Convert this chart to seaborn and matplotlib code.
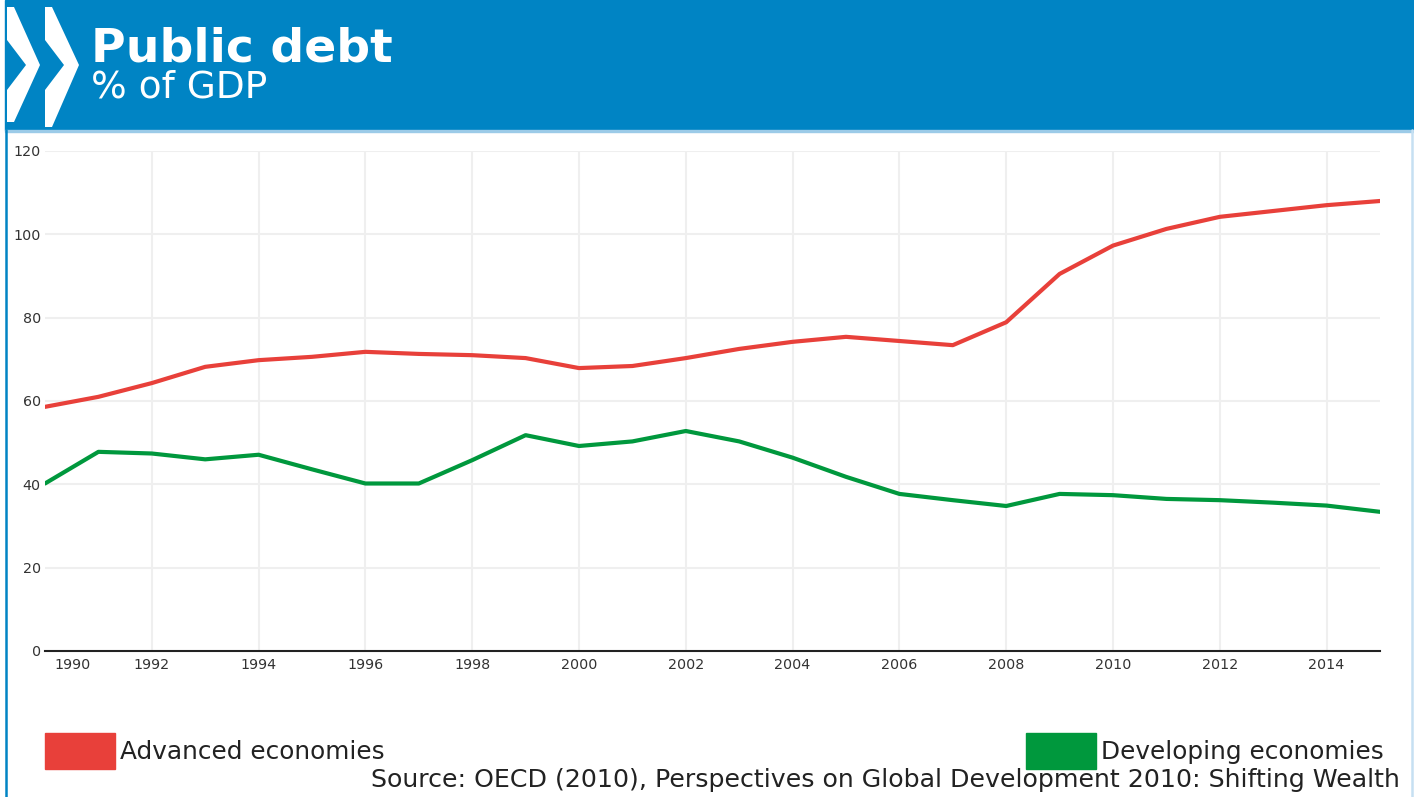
import pandas as pd
import matplotlib.pyplot as plt
import matplotlib.transforms as mtransforms
from matplotlib.patches import Patch, Polygon, Rectangle
import seaborn as sns

# Values (% of GDP)
years = list(range(1990, 2016))
advanced = [58.6, 61.0, 64.3, 68.2, 69.8, 70.6, 71.8, 71.3, 71.0, 70.3,
            67.9, 68.4, 70.3, 72.5, 74.2, 75.4, 74.4, 73.4, 78.9, 90.5,
            97.3, 101.3, 104.2, 105.6, 107.0, 108.0]
developing = [40.2, 47.8, 47.4, 46.0, 47.1, 43.6, 40.2, 40.2, 45.8, 51.8,
              49.2, 50.3, 52.8, 50.3, 46.4, 41.8, 37.7, 36.2, 34.8, 37.7,
              37.4, 36.5, 36.2, 35.6, 34.9, 33.4]
series_names = ['Advanced economies', 'Developing economies']
x_ticks = list(range(1990, 2015, 2))
y_ticks = [0, 20, 40, 60, 80, 100, 120]

title = 'Public debt'
subtitle = '% of GDP'
source = 'Source: OECD (2010), Perspectives on Global Development 2010: Shifting Wealth'

RED = '#e8403a'
GREEN = '#00983d'
BLUE = '#0084c4'

df = pd.DataFrame({
    'year': years * 2,
    'debt': advanced + developing,
    'series': [series_names[0]] * len(years) + [series_names[1]] * len(years),
})

sns.set_style('white')
plt.rcParams['font.family'] = ['DejaVu Sans']

fig = plt.figure(figsize=(14.14, 7.97), dpi=100)
ax = fig.add_axes([45 / 1414, 1 - 651 / 797, (1380 - 45) / 1414, 500 / 797])

sns.lineplot(data=df, x='year', y='debt', hue='series',
             palette={series_names[0]: RED, series_names[1]: GREEN},
             linewidth=3, legend=False, ax=ax)

ax.set_xlim(1990, 2015)
ax.set_ylim(0, 120)
ax.set_xlabel('')
ax.set_ylabel('')

# light grid, no line at the axis start
for yv in y_ticks[1:]:
    ax.axhline(yv, color='#efefef', lw=1.5, zorder=0)
for xv in x_ticks[1:]:
    ax.axvline(xv, color='#efefef', lw=1.5, zorder=0)

for s in ['top', 'right', 'left']:
    ax.spines[s].set_visible(False)
ax.spines['bottom'].set_color('#222222')
ax.spines['bottom'].set_linewidth(1.5)

ax.set_yticks(y_ticks)
ax.set_xticks(x_ticks)
ax.tick_params(axis='y', direction='in', length=8.5, width=1.2, color='#222222',
               pad=3, labelsize=10.3, labelcolor='#333333')
ax.tick_params(axis='x', length=0, pad=5, labelsize=10.3, labelcolor='#333333')
# first year label sits to the right of the axis start
first = ax.get_xticklabels()[0]
first.set_transform(first.get_transform() +
                    mtransforms.ScaledTranslation(0.28, 0, fig.dpi_scale_trans))

# header band
fig.patches.append(Rectangle((5 / 1414, 1 - 130 / 797), 1 - 5 / 1414, 130 / 797,
                             transform=fig.transFigure, color=BLUE, zorder=0))
fig.patches.append(Rectangle((5 / 1414, 1 - 131.5 / 797), 1 - 5 / 1414, 1.5 / 797,
                             transform=fig.transFigure, color='#9ccbe8', zorder=0))
# frame lines
fig.add_artist(plt.Line2D([6 / 1414, 6 / 1414], [0, 1 - 130 / 797],
                          transform=fig.transFigure, color=BLUE, lw=1.8))
fig.add_artist(plt.Line2D([1411.5 / 1414, 1411.5 / 1414], [0, 1 - 130 / 797],
                          transform=fig.transFigure, color='#c6e0f2', lw=1.8))


# logo chevrons (pixel outlines)
def chevron(pts):
    return Polygon([(px / 1414, 1 - py / 797) for px, py in pts],
                   closed=True, transform=fig.transFigure,
                   facecolor='white', edgecolor='none', zorder=2)


fig.patches.append(chevron([(7, 7), (14, 7), (40, 65), (14, 122), (7, 122),
                            (7, 90), (26, 65), (7, 40)]))
fig.patches.append(chevron([(45, 7), (52, 7), (79, 65), (52, 127), (45, 127),
                            (45, 90), (64, 65), (45, 40)]))

fig.text(91 / 1414, 1 - 62 / 797, title, color='white', fontsize=34,
         fontweight='bold', va='baseline', ha='left')
fig.text(91 / 1414, 1 - 97 / 797, subtitle, color='white', fontsize=27,
         va='baseline', ha='left')

# legend: two separate entries, far left and far right
fs = 17.8
fs_px = fs * 100 / 72
leg_kw = dict(frameon=False, fontsize=fs, handlelength=70 / fs_px,
              handleheight=47 / fs_px, handletextpad=0.2, borderpad=0,
              borderaxespad=0, labelcolor='#222222')
fig.legend(handles=[Patch(color=RED, label=series_names[0])], loc='center left',
           bbox_to_anchor=(45 / 1414, 1 - 751 / 797), **leg_kw)
fig.legend(handles=[Patch(color=GREEN, label=series_names[1])], loc='center left',
           bbox_to_anchor=(1026 / 1414, 1 - 751 / 797), **leg_kw)

fig.text(1400 / 1414, 1 - 780 / 797, source, color='#222222', fontsize=18.2,
         ha='right', va='center')

fig.savefig('out.png', dpi=100)
